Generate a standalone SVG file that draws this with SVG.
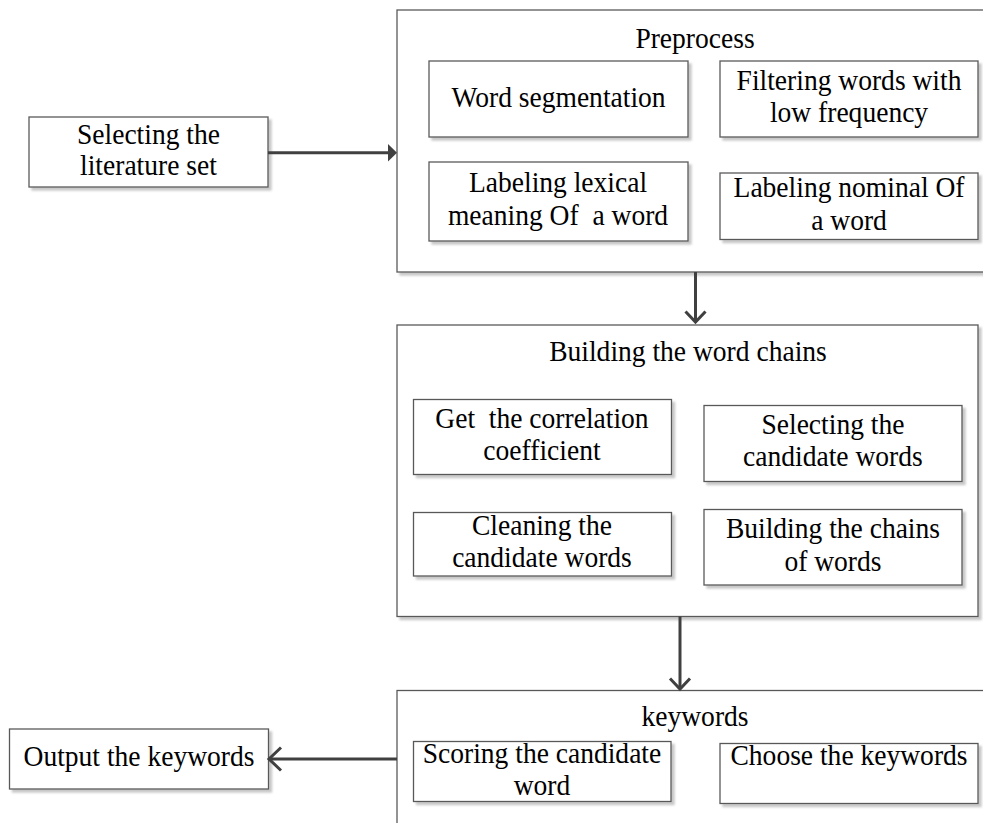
<svg xmlns="http://www.w3.org/2000/svg" width="983" height="823" viewBox="0 0 983 823">
<defs>
<style>
.box{fill:#fff;stroke:#595959;stroke-width:1.3;filter:url(#sh)}
.t{font-family:"Liberation Serif","Times New Roman",serif;font-size:29px;fill:#000;text-anchor:middle}
.c{fill:none;stroke:#404040;stroke-width:3}
</style>
<filter id="sh" x="-5%" y="-5%" width="115%" height="120%">
<feDropShadow dx="3" dy="3" stdDeviation="0.8" flood-color="#000" flood-opacity="0.22"/>
</filter>
</defs>
<rect width="983" height="823" fill="#fff"/>

<g id="preprocess">
<rect class="box" x="397" y="10" width="590" height="262"/>
<text class="t" transform="scale(0.95,1)" x="731.6" y="48">Preprocess</text>
</g>
<g id="word-segmentation">
<rect class="box" x="429" y="61" width="259" height="76"/>
<text class="t" transform="scale(0.95,1)" x="587.9" y="107">Word segmentation</text>
</g>
<g id="filtering">
<rect class="box" x="720" y="61" width="258" height="76"/>
<text class="t" transform="scale(0.95,1)" x="893.7" y="90.5">Filtering words with</text>
<text class="t" transform="scale(0.95,1)" x="893.7" y="122">low frequency</text>
</g>
<g id="labeling-lexical">
<rect class="box" x="429" y="162" width="259" height="79"/>
<text class="t" transform="scale(0.95,1)" x="587.4" y="192.5">Labeling lexical</text>
<text class="t" transform="scale(0.95,1)" x="587.4" y="225" xml:space="preserve">meaning Of  a word</text>
</g>
<g id="labeling-nominal">
<rect class="box" x="720" y="173" width="258" height="66.5"/>
<text class="t" transform="scale(0.95,1)" x="893.7" y="197">Labeling nominal Of</text>
<text class="t" transform="scale(0.95,1)" x="893.7" y="230">a word</text>
</g>

<g id="selecting-literature">
<rect class="box" x="29" y="117" width="239" height="70"/>
<text class="t" transform="scale(0.95,1)" x="156.3" y="144">Selecting the</text>
<text class="t" transform="scale(0.95,1)" x="156.3" y="175.5">literature set</text>
</g>

<g id="building">
<rect class="box" x="397" y="325" width="581" height="291.5"/>
<text class="t" transform="scale(0.95,1)" x="724.2" y="361.5">Building the word chains</text>
</g>
<g id="correlation">
<rect class="box" x="413.5" y="399.5" width="258" height="75"/>
<text class="t" transform="scale(0.95,1)" x="570.5" y="428.5" xml:space="preserve">Get  the correlation</text>
<text class="t" transform="scale(0.95,1)" x="570.5" y="460.5">coefficient</text>
</g>
<g id="selecting-candidate">
<rect class="box" x="704" y="405.5" width="258" height="76"/>
<text class="t" transform="scale(0.95,1)" x="876.8" y="434.5">Selecting the</text>
<text class="t" transform="scale(0.95,1)" x="876.8" y="466.5">candidate words</text>
</g>
<g id="cleaning">
<rect class="box" x="413.5" y="512.5" width="258" height="63.5"/>
<text class="t" transform="scale(0.95,1)" x="570.5" y="535.5">Cleaning the</text>
<text class="t" transform="scale(0.95,1)" x="570.5" y="567.5">candidate words</text>
</g>
<g id="building-chains">
<rect class="box" x="704" y="509.5" width="258" height="75.5"/>
<text class="t" transform="scale(0.95,1)" x="876.8" y="538.5">Building the chains</text>
<text class="t" transform="scale(0.95,1)" x="876.8" y="571">of words</text>
</g>

<g id="keywords">
<rect class="box" x="397" y="690.5" width="590" height="140"/>
<text class="t" transform="scale(0.95,1)" x="731.6" y="726.5">keywords</text>
</g>
<g id="scoring">
<rect class="box" x="413.5" y="741.5" width="257.5" height="60"/>
<text class="t" transform="scale(0.95,1)" x="570.5" y="763.5">Scoring the candidate</text>
<text class="t" transform="scale(0.95,1)" x="570.5" y="795">word</text>
</g>
<g id="choose">
<rect class="box" x="720" y="743.5" width="258" height="60"/>
<text class="t" transform="scale(0.95,1)" x="893.7" y="765">Choose the keywords</text>
</g>

<g id="output">
<rect class="box" x="9.5" y="729" width="259" height="60"/>
<text class="t" transform="scale(0.95,1)" x="146.3" y="766.5">Output the keywords</text>
</g>

<g id="connectors">
<line class="c" x1="268" y1="152.7" x2="389" y2="152.7"/>
<polygon points="388,144 397,152.7 388,161.4" fill="#404040"/>
<line class="c" x1="695.5" y1="272" x2="695.5" y2="322"/>
<polyline class="c" points="685.5,311.5 695.5,322 705.5,311.5"/>
<line class="c" x1="680" y1="616.5" x2="680" y2="689"/>
<polyline class="c" points="670,678.5 680,689 690,678.5"/>
<line class="c" x1="397" y1="759" x2="269" y2="759"/>
<polyline class="c" points="281,747.5 269,759 281,770.5"/>
</g>
</svg>
